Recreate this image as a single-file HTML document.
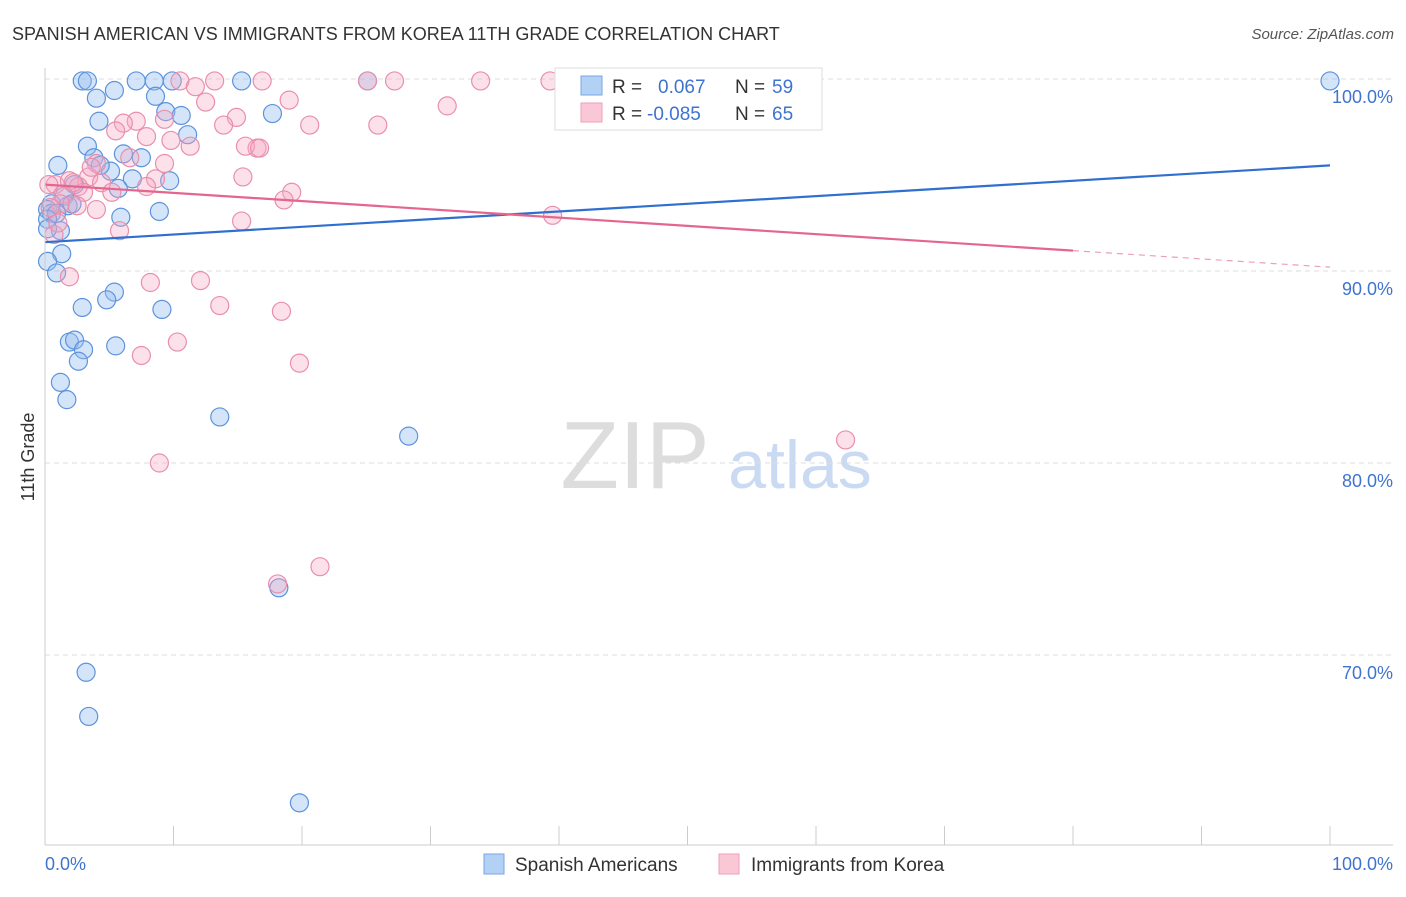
<!DOCTYPE html>
<html><head><meta charset="utf-8"><style>
body{margin:0;background:#fff;font-family:"Liberation Sans",sans-serif;}
svg text{font-family:"Liberation Sans",sans-serif;}
</style></head><body>
<svg id="chart" width="1406" height="892" viewBox="0 0 1406 892" xmlns="http://www.w3.org/2000/svg">
<text x="12" y="40" font-size="18" fill="#333">SPANISH AMERICAN VS IMMIGRANTS FROM KOREA 11TH GRADE CORRELATION CHART</text>
<text x="1394" y="39" font-size="15" fill="#555" font-style="italic" text-anchor="end">Source: ZipAtlas.com</text>
<text x="635" y="488" font-size="96" fill="#ddd" text-anchor="middle" font-family="Liberation Serif,serif">ZIP</text>
<text x="800" y="488" font-size="68" fill="#c9daf2" text-anchor="middle">atlas</text>
<text transform="translate(34,457) rotate(-90)" font-size="18" fill="#333" text-anchor="middle">11th Grade</text>
<g id="grid"></g><g id="pts"></g><g id="lines"></g>
<line x1="45" y1="845" x2="1393" y2="845" stroke="#ccc"/>
<line x1="45" y1="68" x2="45" y2="845" stroke="#ccc"/>
<text x="45" y="870" font-size="18" fill="#3f73d0">0.0%</text>
<text x="1393" y="870" font-size="18" fill="#3f73d0" text-anchor="end">100.0%</text>
<g>
<rect x="555" y="68" width="267" height="62" fill="#fff" stroke="#ddd"/>
<rect x="581" y="76" width="21" height="19" fill="#b3d0f5" stroke="#7aa6e6"/>
<rect x="581" y="103" width="21" height="19" fill="#fac7d6" stroke="#ee9fb8"/>
<text x="612" y="93" font-size="19" fill="#333">R =</text>
<text x="658" y="93" font-size="19" fill="#3f73d0">0.067</text>
<text x="735" y="93" font-size="19" fill="#333">N =</text>
<text x="772" y="93" font-size="19" fill="#3f73d0">59</text>
<text x="612" y="120" font-size="19" fill="#333">R =</text>
<text x="647" y="120" font-size="19" fill="#3f73d0">-0.085</text>
<text x="735" y="120" font-size="19" fill="#333">N =</text>
<text x="772" y="120" font-size="19" fill="#3f73d0">65</text>
</g>
<g>
<rect x="484" y="854" width="20" height="20" fill="#b3d0f5" stroke="#7aa6e6"/>
<text x="515" y="871" font-size="19" fill="#333">Spanish Americans</text>
<rect x="719" y="854" width="20" height="20" fill="#fac7d6" stroke="#ee9fb8"/>
<text x="751" y="871" font-size="19" fill="#333">Immigrants from Korea</text>
</g>
</svg>
<script>
const yTicks=[100,90,80,70];
const yTickLabels=["100.0%","90.0%","80.0%","70.0%"];
const xTicks=[0,10,20,30,40,50,60,70,80,90,100];
const blueX=[2.9,3.3,7.1,8.5,9.9,15.3,25.1,100,4.0,5.4,8.6,9.4,10.6,17.7,4.2,11.1,3.3,6.1,7.5,3.8,1.0,5.1,4.3,6.8,9.7,5.7,8.9,5.9,2.3,1.5,1.8,2.1,0.5,0.2,0.5,0.9,0.2,1.3,0.2,0.9,2.9,5.4,4.8,9.1,1.9,2.3,3.0,5.5,2.6,1.2,1.7,13.6,28.3,18.2,3.2,3.4,19.8,1.2,0.2];
const blueY=[99.9,99.9,99.9,99.9,99.9,99.9,99.9,99.9,99.0,99.4,99.1,98.3,98.1,98.2,97.8,97.1,96.5,96.1,95.9,95.9,95.5,95.2,95.5,94.8,94.7,94.3,93.1,92.8,94.5,93.9,93.4,93.5,93.5,93.2,93.0,93.0,92.7,90.9,90.5,89.9,88.1,88.9,88.5,88.0,86.3,86.4,85.9,86.1,85.3,84.2,83.3,82.4,81.4,73.5,69.1,66.8,62.3,92.1,92.2];
const pinkX=[10.5,13.2,16.9,25.1,27.2,33.9,39.3,11.7,12.5,19.0,31.3,14.9,9.3,7.1,6.1,20.6,25.9,13.9,5.5,7.9,9.8,11.3,16.5,15.6,16.7,6.6,9.3,4.0,3.4,15.4,8.6,4.4,0.8,1.9,2.6,5.2,7.9,19.2,18.6,1.4,3.0,1.2,2.5,4.0,0.4,15.3,5.8,39.5,0.7,1.9,8.2,12.1,13.6,18.4,10.3,7.5,19.8,62.3,8.9,18.1,21.4,0.3,1.0,2.2,3.6];
const pinkY=[99.9,99.9,99.9,99.9,99.9,99.9,99.9,99.6,98.8,98.9,98.6,98.0,97.9,97.8,97.7,97.6,97.6,97.6,97.3,97.0,96.8,96.5,96.4,96.5,96.4,95.9,95.6,95.6,94.9,94.9,94.8,94.6,94.5,94.7,94.4,94.1,94.4,94.1,93.7,94.0,94.1,93.5,93.4,93.2,93.3,92.6,92.1,92.9,91.9,89.7,89.4,89.5,88.2,87.9,86.3,85.6,85.2,81.2,80.0,73.7,74.6,94.5,92.5,94.6,95.4];
const blueTrend=[91.5,95.5];
const pinkTrend=[94.5,90.2];
const pinkSolidEnd=80;
const NS="http://www.w3.org/2000/svg";
const sx=v=>45+v*12.85, sy=v=>79+(100-v)*19.2;
function mk(t,a,p){const e=document.createElementNS(NS,t);for(const k in a)e.setAttribute(k,a[k]);p.appendChild(e);return e;}
const grid=document.getElementById('grid');
yTicks.forEach((v,i)=>{
 const l=mk('line',{x1:45,x2:1393,y1:sy(v),y2:sy(v),stroke:'#ddd','stroke-dasharray':'5,4'},grid);
 
 
 const t=mk('text',{x:1393,y:sy(v)+24,'font-size':18,fill:'#3f73d0','text-anchor':'end'},grid);
 t.textContent=yTickLabels[i];
 
 
});
xTicks.forEach(v=>{
 const l=mk('line',{x1:sx(v),x2:sx(v),y1:826,y2:845,stroke:'#ccc'},grid);
 
 
});
const pts=document.getElementById('pts');
blueX.forEach((x,i)=>{
 const c=mk('circle',{cx:sx(x),cy:sy(blueY[i]),r:9,fill:'rgba(150,190,240,0.4)',stroke:'#5d93dc','stroke-width':1.2},pts);
 
 
});
pinkX.forEach((x,i)=>{
 const c=mk('circle',{cx:sx(x),cy:sy(pinkY[i]),r:9,fill:'rgba(245,170,195,0.35)',stroke:'#e98fae','stroke-width':1.2},pts);
 
 
});
const lines=document.getElementById('lines');
const bl=mk('line',{x1:sx(0),y1:sy(blueTrend[0]),x2:sx(100),y2:sy(blueTrend[1]),stroke:'#2f6fd0','stroke-width':2.2},lines);


const pm=pinkTrend[0]+(pinkTrend[1]-pinkTrend[0])*pinkSolidEnd/100;
const pl=mk('line',{x1:sx(0),y1:sy(pinkTrend[0]),x2:sx(pinkSolidEnd),y2:sy(pm),stroke:'#e4668f','stroke-width':2.2},lines);


const pd=mk('line',{x1:sx(pinkSolidEnd),y1:sy(pm),x2:sx(100),y2:sy(pinkTrend[1]),stroke:'#eba0b8','stroke-width':1.2,'stroke-dasharray':'6,5'},lines);


</script>
</body></html>
